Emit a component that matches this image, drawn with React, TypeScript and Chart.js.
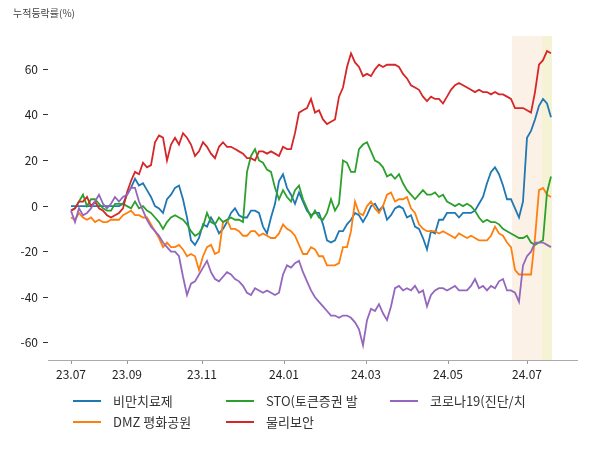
import React, { useEffect, useRef } from 'react';
import { Chart, registerables } from 'chart.js';

Chart.register(...registerables);

const TITLE = '누적등락률(%)';
const SERIES_NAMES = ['비만치료제', 'DMZ 평화공원', 'STO(토큰증권 발', '물리보안', '코로나19(진단/치'];
const COLORS = ['#1f77b4', '#ff7f0e', '#2ca02c', '#d62728', '#9467bd'];
const X_TICK_LABELS = ['23.07', '23.09', '23.11', '24.01', '24.03', '24.05', '24.07'];
const X_TICK_POS = [0, 14, 32.75, 53.25, 73.75, 94.25, 114];
const Y_TICKS = [-60, -40, -20, 0, 20, 40, 60];
const SHADE_PEACH = [110.25, 120.25];
const SHADE_YELLOW = [117.75, 120.25];

const blue = [
  0, 0, 0, 0, 0, 0, 0, 0, 0, 0, 0, 0, 0, 1, 5, 8, 12, 9, 10, 7,
  4, 0, -1, -3, 3, 5, 8, 9, 3, -5, -15, -17, -14, -8, -9, -5, -8, -12, -10, -7,
  -3, -1, -4, -5, -5, -2, -2, -3, -9, -12, -5, 1, 11, 14, 8, 5, 1, 6, 2, -2,
  -4, -3, -3, -8, -15, -16, -15, -11, -11, -8, -6, -3, -4, -7, -4, 0, 1, -2, 0, -6,
  -4, -1, 0, -1, -5, -4, -9, -10, -14, -19, -11, -12, -6, -6, -3, -3, -3, -5, -3, -3,
  -3, -2, 1, 4, 10, 15, 17, 14, 9, 3, 3, -1, -5, 2, 30, 33, 38, 44, 47, 45,
  39,
];
const orange = [
  -5, -6, -3, -5, -6, -5, -7, -6, -7, -7, -6, -6, -6, -4, -3, -2, -4, -4, -5, -5,
  -8, -11, -14, -18, -16, -18, -18, -17, -19, -22, -21, -22, -28, -22, -18, -17, -21, -20, -7, -6,
  -10, -10, -11, -13, -13, -11, -11, -13, -12, -13, -14, -14, -12, -8, -10, -11, -13, -17, -21, -21,
  -18, -19, -22, -22, -26, -26, -26, -25, -18, -18, -11, 2, -3, -4, 0, 2, -1, -3, 0, 5,
  6, 2, 3, 3, 4, -1, -3, -8, -10, -11, -11, -11, -12, -11, -12, -13, -14, -12, -13, -14,
  -13, -14, -15, -15, -15, -13, -9, -12, -13, -16, -18, -28, -30, -30, -30, -30, -14, 7, 8, 5,
  4,
];
const green = [
  -2, -1, 2, 5, 0, 3, 3, 1, -1, -2, -2, 1, 1, 1, 0, -1, 2, -1, 0, -2,
  -3, -5, -7, -10, -7, -5, -4, -5, -6, -8, -11, -13, -12, -9, -3, -7, -8, -5, -7, -6,
  -5, -6, -6, -7, 15, 22, 25, 20, 19, 16, 15, 8, 3, 7, 4, 2, 7, 9, 3, -1,
  -5, -2, -5, -6, -3, 3, -2, 1, 20, 19, 15, 15, 25, 27, 28, 24, 20, 19, 17, 13,
  14, 12, 14, 10, 7, 5, 3, 5, 7, 5, 5, 6, 4, 5, 2, 1, 0, 1, 0, 1,
  0, -2, -5, -7, -6, -7, -7, -8, -10, -11, -12, -13, -14, -14, -13, -16, -17, -16, -15, 6,
  13,
];
const red = [
  -2, -1, 2, 2, 4, 0, 2, -1, -2, -4, -5, -4, -3, -1, 6, 11, 15, 14, 19, 17,
  18, 28, 31, 30, 20, 27, 30, 27, 32, 30, 27, 22, 24, 28, 26, 23, 21, 26, 28, 26,
  26, 25, 24, 23, 21, 21, 20, 24, 24, 23, 24, 23, 22, 26, 25, 25, 32, 41, 42, 43,
  47, 41, 42, 38, 36, 37, 38, 48, 52, 61, 67, 63, 61, 57, 58, 57, 60, 62, 61, 62,
  62, 62, 61, 58, 56, 53, 52, 51, 48, 46, 48, 47, 47, 45, 48, 51, 53, 54, 53, 52,
  51, 50, 51, 50, 50, 49, 50, 49, 49, 48, 47, 43, 43, 43, 42, 41, 50, 62, 64, 68,
  67,
];
const purple = [
  -2, -7, -1, -4, -3, -1, 2, 5, 1, -1, 1, 4, 2, 4, 5, 8, 8, 2, -2, -6,
  -9, -11, -13, -16, -18, -20, -20, -22, -31, -39, -34, -33, -30, -27, -24, -29, -32, -33, -31, -29,
  -30, -32, -33, -35, -38, -39, -36, -37, -38, -37, -38, -39, -38, -30, -26, -27, -25, -24, -29, -33,
  -37, -40, -42, -44, -46, -48, -48, -49, -48, -48, -49, -51, -54, -61, -50, -45, -46, -43, -47, -50,
  -44, -36, -35, -37, -36, -37, -35, -38, -37, -44, -39, -37, -36, -36, -37, -36, -35, -37, -37, -37,
  -35, -32, -36, -35, -37, -35, -36, -33, -32, -37, -37, -38, -42, -26, -22, -20, -16, -16, -16, -17,
  -18,
];

const SERIES = [blue, orange, green, red, purple];
const FONT = '"Noto Sans CJK KR", "Noto Sans", sans-serif';

const shadePlugin = {
  id: 'shade',
  beforeDatasetsDraw(chart: any) {
    const { ctx, chartArea, scales } = chart;
    const xs = scales.x;
    ctx.save();
    const fillSpan = (span: number[], color: string) => {
      const a = xs.getPixelForValue(span[0]);
      const b = xs.getPixelForValue(span[1]);
      ctx.fillStyle = color;
      ctx.fillRect(a, chartArea.top, b - a, chartArea.bottom - chartArea.top);
    };
    fillSpan(SHADE_PEACH, 'rgb(251,241,231)');
    fillSpan(SHADE_YELLOW, 'rgb(245,242,214)');
    ctx.restore();
  },
};

const textPlugin = {
  id: 'texts',
  afterDraw(chart: any) {
    const { ctx } = chart;
    ctx.save();
    ctx.fillStyle = '#444';
    ctx.font = `10px ${FONT}`;
    ctx.textAlign = 'left';
    ctx.textBaseline = 'middle';
    ctx.fillText(TITLE, 13, 13);

    const cols = [[0, 1], [2, 3], [4]];
    const colX = [73, 226, 390];
    const rowY = [401, 422];
    ctx.font = `13px ${FONT}`;
    cols.forEach((col, ci) => {
      col.forEach((di, ri) => {
        const ds = chart.data.datasets[di];
        const x = colX[ci];
        const y = rowY[ri];
        ctx.strokeStyle = ds.borderColor;
        ctx.lineWidth = 2;
        ctx.beginPath();
        ctx.moveTo(x, y);
        ctx.lineTo(x + 28, y);
        ctx.stroke();
        ctx.fillStyle = '#333';
        ctx.fillText(ds.label, x + 40, y);
      });
    });
    ctx.restore();
  },
};

export default function App() {
  const ref = useRef<HTMLCanvasElement>(null);
  useEffect(() => {
    if (!ref.current) return;
    const labels = blue.map((_, i) => i);
    const chart = new Chart(ref.current, {
      type: 'line',
      data: {
        labels,
        datasets: SERIES.map((s, i) => ({
          label: SERIES_NAMES[i],
          data: s,
          borderColor: COLORS[i],
          backgroundColor: COLORS[i],
          borderWidth: 1.8,
          pointRadius: 0,
          tension: 0,
          fill: false,
          order: SERIES.length - i,
        })),
      },
      options: {
        responsive: false,
        animation: false,
        devicePixelRatio: 1,
        layout: { padding: { left: 0, right: 23, top: 36, bottom: 66 } },
        plugins: {
          legend: { display: false },
          title: { display: false },
          tooltip: { enabled: false },
        },
        scales: {
          x: {
            type: 'linear',
            min: -5.75,
            max: 126.5,
            afterFit: (s: any) => { s.height = 24; },
            afterBuildTicks: (s: any) => { s.ticks = X_TICK_POS.map((v) => ({ value: v })); },
            grid: { drawOnChartArea: false, drawTicks: true, tickLength: 4, color: '#999' },
            border: { display: true, color: '#aaa', width: 1 },
            ticks: {
              autoSkip: false,
              maxRotation: 0,
              padding: 3,
              color: '#222',
              font: { family: FONT, size: 12 },
              callback: (_v: any, i: number) => X_TICK_LABELS[i],
            },
          },
          y: {
            type: 'linear',
            min: -67.5,
            max: 74.6,
            afterFit: (s: any) => { s.width = 48; },
            afterBuildTicks: (s: any) => { s.ticks = Y_TICKS.map((v) => ({ value: v })); },
            grid: { drawOnChartArea: false, drawTicks: true, tickLength: 5, color: '#333' },
            border: { display: false },
            ticks: {
              padding: 5,
              color: '#222',
              font: { family: FONT, size: 12 },
              callback: (v: any) => String(v),
            },
          },
        },
      },
      plugins: [shadePlugin, textPlugin],
    });
    return () => chart.destroy();
  }, []);
  return (
    <div style={{ position: 'absolute', left: 0, top: 0, width: 600, height: 450, background: '#fff' }}>
      <canvas ref={ref} width={600} height={450} style={{ display: 'block' }} />
    </div>
  );
}
